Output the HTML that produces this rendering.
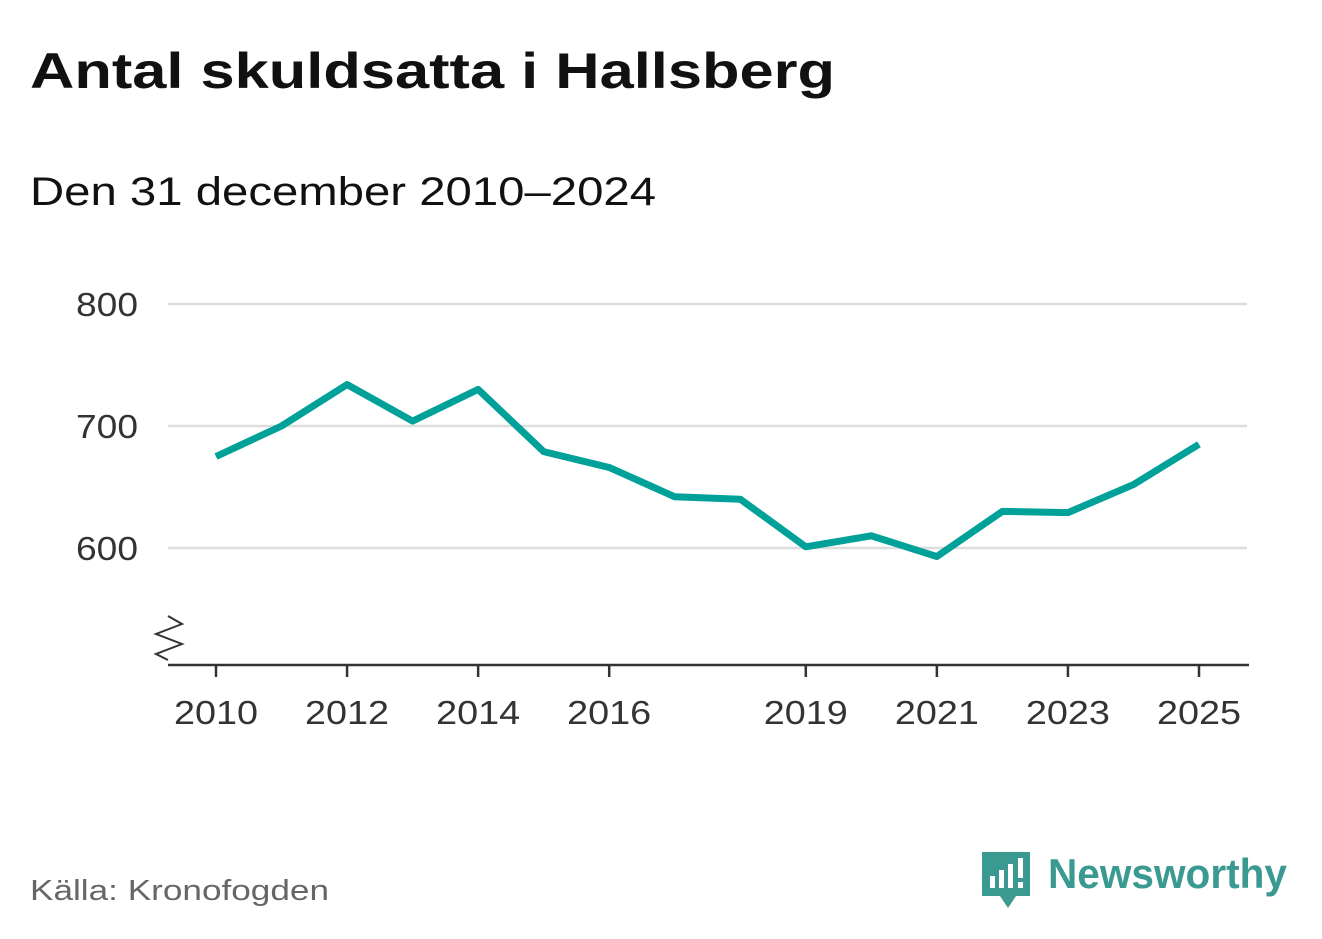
<!DOCTYPE html>
<html><head><meta charset="utf-8"><style>
body{margin:0;background:#fff;font-family:"Liberation Sans",sans-serif;}
#c{position:relative;width:1322px;height:939px;overflow:hidden}
</style></head><body>
<div id="c">
<svg width="1322" height="939">
<text x="30" y="88" font-size="50" font-weight="bold" fill="#111" textLength="805" lengthAdjust="spacingAndGlyphs">Antal skuldsatta i Hallsberg</text>
<text x="30" y="205" font-size="40" fill="#111" textLength="626" lengthAdjust="spacingAndGlyphs">Den 31 december 2010–2024</text>
<g id="grid"></g><g id="xax"></g>
<path d="M168 616 L182 624 L156 634 L182 644 L156 654 L168 660" fill="none" stroke="#333" stroke-width="2"/>
<path id="line" fill="none" stroke="#00a198" stroke-width="7" stroke-linejoin="round"/>
<text x="30" y="900" font-size="29" fill="#666" textLength="299" lengthAdjust="spacingAndGlyphs">Källa: Kronofogden</text>
<g>
<path d="M982 852 h48 v44 h-14 l-8 12 l-8 -12 h-18 z" fill="#3a9a92"/>
<rect x="990" y="876" width="5" height="12" fill="#fff"/><rect x="999" y="870" width="5" height="18" fill="#fff"/><rect x="1008" y="864" width="5" height="24" fill="#fff"/><rect x="1018" y="858" width="5" height="20" fill="#fff"/><rect x="1018" y="882" width="5" height="6" fill="#fff"/>
<text x="1048" y="888" font-size="42" font-weight="bold" fill="#3a9a92" textLength="239" lengthAdjust="spacingAndGlyphs">Newsworthy</text>
</g>
</svg>
<script>
const years=[2010,2011,2012,2013,2014,2015,2016,2017,2018,2019,2020,2021,2022,2023,2024,2025];
const values=[675,700,734,704,730,679,666,642,640,601,610,593,630,629,652,685];
const yTicks=[600,700,800];
const xTicks=[2010,2012,2014,2016,2019,2021,2023,2025];
const ns="http://www.w3.org/2000/svg";
const x=v=>216+(v-2010)*(1199-216)/15;
const y=v=>548-(v-600)*1.22;
const grid=document.getElementById('grid'),xax=document.getElementById('xax');
function el(t,a,p){const e=document.createElementNS(ns,t);for(const k in a)e.setAttribute(k,a[k]);p.appendChild(e);return e;}
yTicks.forEach(t=>{
 const l=el('line',{x1:168,x2:1247,y1:y(t),y2:y(t),stroke:'#ddd','stroke-width':2.5},grid);
 
 
 const tx=el('text',{x:138,y:y(t)+12,'font-size':33,fill:'#333','text-anchor':'end',textLength:62,lengthAdjust:'spacingAndGlyphs'},grid);
 tx.textContent=t;
 
 
});
const ax=el('line',{x1:168,x2:1249,y1:665,y2:665,stroke:'#333','stroke-width':2.5},xax);


xTicks.forEach(t=>{
 const k=el('line',{x1:x(t),x2:x(t),y1:665,y2:677,stroke:'#333','stroke-width':2.5},xax);
 
 
 const tx=el('text',{x:x(t),y:724,'font-size':33,fill:'#333','text-anchor':'middle',textLength:84,lengthAdjust:'spacingAndGlyphs'},xax);
 tx.textContent=t;
 
 
});
document.getElementById('line').setAttribute('d',values.map((v,i)=>(i?'L':'M')+x(years[i])+' '+y(v)).join(' '));
</script>
</div>
</body></html>
